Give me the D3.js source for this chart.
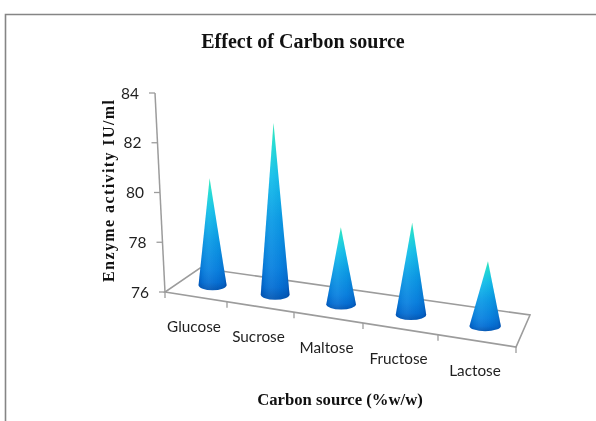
<!DOCTYPE html>
<html>
<head>
<meta charset="utf-8">
<style>html,body{margin:0;padding:0;background:#fff}svg{display:block;filter:blur(0.35px)}</style>
<script src="https://cdn.jsdelivr.net/npm/d3@7"></script>
</head>
<body>
<svg id="c" width="596" height="421"></svg>
<script>
const categories = ["Glucose","Sucrose","Maltose","Fructose","Lactose"];
const activity = [80.3, 82.9, 79.1, 79.7, 78.6];
const yTicks = [76, 78, 80, 82, 84];
const chartTitle = "Effect of Carbon source";
const xTitle = "Carbon source (%w/w)";
const yTitle = "Enzyme activity IU/ml";

const svg = d3.select("#c");
const axisColor = "#9c9c9c", textColor = "#1f1f1f";

// Projection of the chart box
const y = d3.scaleLinear().domain([76,84]).range([292,93]);
const yAxisX = d3.scaleLinear().domain([76,84]).range([165,155]);
// category position along the front floor edge (perspective foreshortened)
const frontX = d3.scaleLinear().domain([0,1,2,3,4,5]).range([165,227,294,363,438,516]);
const frontFrac = d3.scaleLinear().domain([165,516]).range([0,1]);
const frontY = d3.scaleLinear().domain([0,1]).range([292,347]);
const backX = d3.scaleLinear().domain([0,1]).range([200,530]);
const backY = d3.scaleLinear().domain([0,1]).range([268,315]);
const radius = d3.scaleLinear().domain([0,1]).range([13.8,15.9]);
const lean = d3.scaleLinear().domain([0,1]).range([-3.6,3.6]);

function floor(t, depth){
  const f = frontFrac(frontX(t));
  return {
    f,
    x: (frontX(t)) * (1-depth) + backX(f) * depth,
    y: frontY(f) * (1-depth) + backY(f) * depth
  };
}

// Frame
svg.append("path")
  .attr("d","M5.5,421V14.5H596")
  .attr("fill","none").attr("stroke","#858585").attr("stroke-width",1.6);

// Title texts
svg.append("text").attr("x",303).attr("y",48).attr("text-anchor","middle")
  .attr("font-family","'Liberation Serif'").attr("font-weight","bold")
  .attr("font-size",20).attr("fill","#111").text(chartTitle);
svg.append("text").attr("x",340).attr("y",405).attr("text-anchor","middle")
  .attr("font-family","'Liberation Serif'").attr("font-weight","bold")
  .attr("font-size",16.7).attr("fill","#111").text(xTitle);
svg.append("text").attr("transform","translate(114,191) rotate(-90)").attr("text-anchor","middle")
  .attr("font-family","'Liberation Serif'").attr("font-weight","bold")
  .attr("font-size",16).attr("textLength",182).attr("lengthAdjust","spacing")
  .attr("fill","#111").text(yTitle);

// Floor
const floorPts = [floor(0,0),floor(5,0),floor(5,1),floor(0,1)];
svg.append("path")
  .attr("d",d3.line().x(d=>d.x).y(d=>d.y).curve(d3.curveLinearClosed)(floorPts))
  .attr("fill","none").attr("stroke",axisColor).attr("stroke-width",1.6);

// Category ticks
svg.selectAll(".xt").data(d3.range(0,6)).join("line").attr("class","xt")
  .attr("x1",d=>floor(d,0).x).attr("x2",d=>floor(d,0).x)
  .attr("y1",d=>floor(d,0).y).attr("y2",d=>floor(d,0).y+6)
  .attr("stroke",axisColor).attr("stroke-width",1.3);

// Value axis
svg.append("line")
  .attr("x1",yAxisX(84)).attr("y1",y(84)).attr("x2",yAxisX(76)).attr("y2",y(76))
  .attr("stroke",axisColor).attr("stroke-width",1.5);
svg.selectAll(".yt").data(yTicks).join("line").attr("class","yt")
  .attr("x1",d=>yAxisX(d)-6).attr("x2",d=>yAxisX(d))
  .attr("y1",d=>y(d)).attr("y2",d=>y(d))
  .attr("stroke",axisColor).attr("stroke-width",1.3);
svg.selectAll(".yl").data(yTicks).join("text").attr("class","yl")
  .attr("x",d=>yAxisX(d)-16).attr("y",d=>y(d)+5.5)
  .attr("text-anchor","end").attr("font-family","Lato").attr("font-size",15.5)
  .attr("fill",textColor).text(d=>d);

// Category labels
svg.selectAll(".xl").data(categories).join("text").attr("class","xl")
  .attr("x",(d,i)=>(frontX(i)+frontX(i+1))/2 - 2)
  .attr("y",(d,i)=>floor(i+0.5,0).y+35)
  .attr("text-anchor","middle").attr("font-family","Lato").attr("font-size",15.3)
  .attr("fill",textColor).text(d=>d);

// Gradients
const defs = svg.append("defs");
const vg = defs.append("linearGradient").attr("id","coneV")
  .attr("x1",0).attr("x2",0).attr("y1",0).attr("y2",1);
[[0,"#2fe6b8"],[0.12,"#1fdcd4"],[0.3,"#14bfea"],[0.55,"#0c9ce6"],[0.82,"#0a82e0"],[0.93,"#0670d4"],[1,"#0458b4"]]
  .forEach(s=>vg.append("stop").attr("offset",s[0]).attr("stop-color",s[1]));
const hg = defs.append("linearGradient").attr("id","coneH")
  .attr("x1",0).attr("x2",1).attr("y1",0).attr("y2",0);
[[0,"#003a96",0.4],[0.12,"#003a96",0.1],[0.38,"#ffffff",0.05],[0.7,"#003a96",0.05],[0.9,"#003a96",0.2],[1,"#002a80",0.45]]
  .forEach(s=>hg.append("stop").attr("offset",s[0]).attr("stop-color",s[1]).attr("stop-opacity",s[2]));

// Cones
const coneD = (d,i)=>{
  const b = floor(i+0.5,0.5);
  const r = radius(b.f), ry = 5.2, cy = b.y+0.6;
  const tipY = cy - (y(76)-y(d));
  const tipX = b.x + lean(b.f);
  return `M${tipX},${tipY}L${b.x-r},${cy}A${r},${ry} 0 0 0 ${b.x+r},${cy}Z`;
};
const cones = svg.selectAll(".cone").data(activity).join("g").attr("class","cone");
cones.append("path").attr("d",coneD).attr("fill","url(#coneV)");
cones.append("path").attr("d",coneD).attr("fill","url(#coneH)");
</script>
</body>
</html>
